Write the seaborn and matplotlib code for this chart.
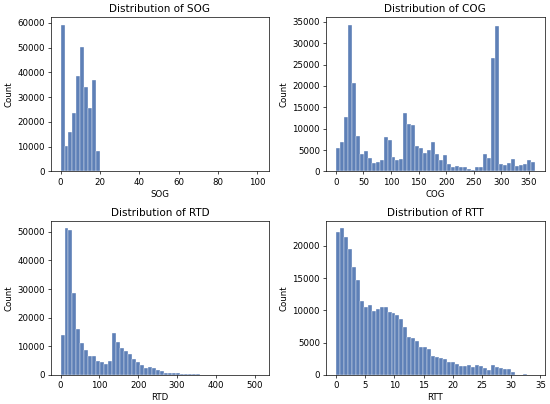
import numpy as np
import pandas as pd
import matplotlib
matplotlib.use('Agg')
import matplotlib.pyplot as plt
from matplotlib.ticker import MultipleLocator
import seaborn as sns

# histogram counts (50 bins per variable)
sog_max = 101.0
sog_counts = [59200, 10400, 15800, 23500, 38700, 50400, 34000, 25600, 37100, 8400,
              0, 0, 0, 0, 0, 0, 0, 0, 0, 0,
              0, 0, 0, 0, 0, 0, 0, 0, 0, 0,
              0, 0, 0, 0, 0, 0, 0, 0, 0, 0,
              0, 0, 0, 0, 0, 0, 0, 0, 0, 0]

cog_max = 360.0
cog_counts = [5600, 6900, 12800, 34300, 20600, 8400, 4000, 4800, 3200, 1950,
              2200, 2700, 8000, 7400, 3350, 2750, 3000, 13700, 11000, 10800,
              6000, 5600, 4300, 5100, 7000, 4200, 2600, 3800, 1650, 1100,
              1250, 1100, 1000, 600, 300, 1100, 950, 4000, 3050, 26500,
              34000, 1800, 1400, 2000, 3000, 1250, 1400, 1650, 2650, 2200]

rtd_max = 512.0
rtd_counts = [13900, 51300, 50600, 28600, 15900, 11300, 8600, 6600, 6600, 4700,
              4500, 3700, 4800, 14800, 11400, 9300, 8300, 7200, 5700, 4600,
              3600, 2500, 2600, 2400, 1800, 1200, 750, 700, 600, 500,
              350, 250, 250, 150, 350, 30, 20, 10, 10, 5,
              5, 5, 0, 0, 0, 0, 0, 0, 0, 5]

rtt_max = 34.0
rtt_counts = [22150, 22750, 21350, 19500, 16700, 14650, 11500, 10600, 10850, 9950,
              10250, 10450, 10450, 9750, 9650, 9250, 8600, 7350, 5950, 5650,
              5300, 4250, 4400, 3950, 2980, 2700, 2650, 2400, 1950, 1950,
              1680, 1420, 1420, 1460, 1260, 1460, 1360, 1000, 700, 1600,
              1250, 1100, 840, 880, 420, 50, 50, 160, 15, 20]

# name, max value, counts, x tick step, y tick step
panels = [("SOG", sog_max, sog_counts, 20, 10000),
          ("COG", cog_max, cog_counts, 50, 5000),
          ("RTD", rtd_max, rtd_counts, 100, 10000),
          ("RTT", rtt_max, rtt_counts, 5, 5000)]

dpi = 62
fig, axes = plt.subplots(2, 2, figsize=(550 / dpi, 404 / dpi), dpi=dpi)

for ax, (name, vmax, counts, xstep, ystep) in zip(axes.flat, panels):
    edges = np.linspace(0, vmax, len(counts) + 1)
    df = pd.DataFrame({name: (edges[:-1] + edges[1:]) / 2, 'n': counts})
    sns.histplot(data=df, x=name, weights='n', bins=list(edges), ax=ax,
                 color='#4C72B0', edgecolor='white', alpha=0.9)
    ax.xaxis.set_major_locator(MultipleLocator(xstep))
    ax.yaxis.set_major_locator(MultipleLocator(ystep))
    ax.set_title(f'Distribution of {name}')
    ax.set_xlabel(name)
    ax.set_ylabel('Count')

plt.subplots_adjust(left=0.092, right=0.99, top=0.957, bottom=0.072,
                    wspace=0.26, hspace=0.32)
plt.savefig('out.png', dpi=dpi)
